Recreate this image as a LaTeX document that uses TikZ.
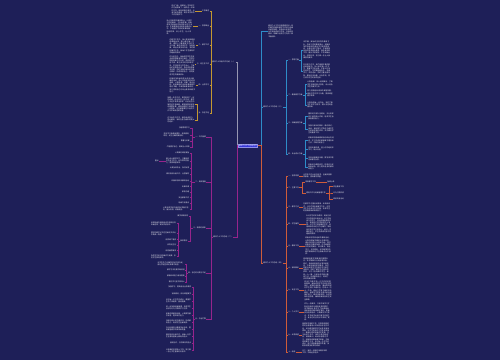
\documentclass[tikz,border=0pt]{standalone}
\usepackage{fontspec}
\usepackage{tikz}
\usetikzlibrary{positioning}
\newfontfamily\cjk{Noto Sans CJK SC}
\XeTeXlinebreaklocale "zh"
\XeTeXlinebreakskip = 0pt plus 1pt
\definecolor{bgnavy}{RGB}{30,31,88}
\definecolor{hubblue}{RGB}{52,52,214}
\definecolor{trunkgray}{RGB}{150,150,178}
\definecolor{goldline}{RGB}{196,152,48}
\definecolor{plumline}{RGB}{150,36,140}
\definecolor{skyline}{RGB}{46,140,200}
\definecolor{rustline}{RGB}{206,92,58}

\begin{document}
\begin{tikzpicture}[x=1mm, y=-1mm,
        txt/.style={text=white!92!bgnavy, font=\cjk\fontsize{5}{6.3}\selectfont, inner sep=0.3mm},
        para/.style={txt, align=left, text width=#1mm},
        hub/.style={txt, text=white, fill=hubblue, draw=hubblue!55!white, line width=0.2mm, inner sep=0.7mm},
        tl/.style={draw=trunkgray, line width=0.55mm},
        gl/.style={draw=goldline, line width=0.45mm},
        pl/.style={draw=plumline, line width=0.45mm},
        sl/.style={draw=skyline, line width=0.45mm},
        rl/.style={draw=rustline, line width=0.45mm}
        ]
        \fill[bgnavy] (0,0) rectangle (500,360);
        \useasboundingbox (0,0) rectangle (500,360);

        \node[hub] (hub) at (248,145.5) {教师个人工作总结范文};

        % left, upper branch
        \node[txt, anchor=west] (ta) at (212,62) {教师个人年度工作总结（一）};
        \node[txt, anchor=east] (ta1) at (209.5,11) {工作概述};
        \node[txt, anchor=east] (ta2) at (209.5,26) {一、思想政治};
        \node[txt, anchor=east] (ta3) at (209.5,45) {二、教学工作};
        \node[txt, anchor=east] (ta4) at (209.5,64) {三、班主任工作};
        \node[txt, anchor=east] (ta5) at (209.5,85) {四、业务学习};
        \node[txt, anchor=east] (ta6) at (209.5,113) {五、存在不足};
        \node[para=23, anchor=east] (pa1) at (195,10.5) {时光飞逝，转眼间一学年的工作已经结束了。回顾这一年来的工作，既有收获的喜悦，也有不足的遗憾，现将本学年的工作总结如下。};
        \node[para=26, anchor=east] (pa2) at (193,27) {本人热爱党的教育事业，认真学习党的路线、方针和政策，积极参加学校组织的各项政治学习活动，不断提高自身的政治理论水平。严格遵守学校的规章制度，团结同事，关心学生，为人师表。};
        \node[para=26, anchor=east] (pa3) at (196,46) {在教学工作中，我认真钻研教材和课程标准，精心备好每一节课，课堂上注重激发学生的学习兴趣，面向全体学生，因材施教。课后认真批改作业，及时做好辅导工作，使每个学生都有不同程度的提高。};
        \node[para=25, anchor=east] (pa4) at (195,65.5) {作为班主任，我始终把学生的安全和思想教育放在首位。开学初制定班级工作计划，培养得力的班干部，建立良好的班风和学风。平时经常与学生谈心，了解他们的思想动态，及时发现并解决问题。同时加强与家长的沟通与联系，形成家校合力，共同促进学生的健康成长。};
        \node[para=26, anchor=east] (pa5) at (196,85) {积极参加各级各类业务培训和教研活动，虚心向有经验的老师请教，认真听课、评课，取长补短。利用课余时间阅读教育教学理论书籍，不断更新教育观念，努力提高自己的专业素养和教学能力。};
        \node[para=27, anchor=east] (pa6) at (195,104.5) {回顾一年的工作，虽然取得了一定的成绩，但也存在一些不足：教学方法还不够灵活多样，对后进生的辅导还不够细致，课堂管理的经验还需要积累，教育科研能力有待进一步提高。这些都需要在今后的工作中不断改进和完善。};
        \node[para=27, anchor=east] (pa7) at (195,120) {在今后的工作中，我将继续努力，扬长避短，争取在各方面取得更大的进步。};

        % left, lower branch
        \node[txt, anchor=west] (tb) at (213,237) {教师个人工作总结（二）};
        \node[txt, anchor=west] (tb1) at (195,137) {一、工作回顾};
        \node[txt, anchor=west] (tb2) at (195,182) {二、具体措施};
        \node[txt, anchor=west] (tb3) at (193,228) {三、取得的成绩};
        \node[txt, anchor=west] (tb4) at (188,273) {四、存在的问题与不足};
        \node[txt, anchor=west] (tb5) at (195,319) {五、今后打算};

        \node[txt, anchor=east] (ba1) at (190,128) {加强思想学习};
        \node[para=26, anchor=east] (ba2) at (190,135) {坚持学习新课程理念，转变教育观念，树立正确的教育观。};
        \node[txt, anchor=east] (ba3) at (190,141) {尊重与关爱};
        \node[txt, anchor=east] (ba4) at (190,147) {严格要求自己，做到为人师表};

        \node[txt, anchor=east] (bb1) at (189.5,153) {认真做好课前准备};
        \node[para=23, anchor=east] (bb2) at (189.5,161) {精心设计教学环节，注重培养学生自主学习、合作探究的能力，提高课堂效率。};
        \node[txt, anchor=east] (bb0) at (159,161) {重点};
        \node[txt, anchor=east] (bb3) at (189.5,168) {认真批改作业，及时反馈};
        \node[txt, anchor=east] (bb4) at (189.5,174) {做好培优补差工作，分层辅导};
        \node[txt, anchor=east] (bb5) at (189.5,181) {积极参加校本教研活动};
        \node[txt, anchor=east] (bb6) at (189.5,186.5) {听课评课};
        \node[txt, anchor=east] (bb7) at (189.5,192) {家校沟通};
        \node[txt, anchor=east] (bb8) at (189.5,197.5) {安全教育工作};
        \node[txt, anchor=east] (bb9) at (189.5,203) {班级文化建设};
        \node[para=26, anchor=east] (bb10) at (189.5,209) {认真完成学校交给的各项临时任务，服从安排，积极配合。};

        \node[txt, anchor=east] (bc1) at (188.5,216) {教学成绩优秀};
        \node[txt, anchor=west] (bc2) at (180,241) {获奖情况};
        \node[para=25, anchor=east] (bd1) at (176.5,223.5) {所带班级在期末统考中成绩名列年级前茅，受到学校好评。};
        \node[para=25, anchor=east] (bd2) at (176.5,233.5) {撰写的教学论文在区级论文评比中荣获一等奖。};
        \node[txt, anchor=east] (bd3) at (176.5,239.5) {优质课二等奖};
        \node[txt, anchor=east] (bd4) at (176.5,245) {优秀班主任};
        \node[txt, anchor=east] (bd5) at (176.5,250.5) {优秀辅导教师};
        \node[para=25, anchor=east] (bd6) at (176.5,256.5) {指导学生参加市级作文竞赛，多名学生获得奖项。};

        \node[para=27, anchor=east] (be1) at (185,264) {对学生的个别辅导时间不够充足，部分学困生转化效果不明显。};
        \node[txt, anchor=east] (be2) at (185,270) {教学方法仍需不断改进};
        \node[txt, anchor=east] (be3) at (185,276) {教育科研能力有待提高};
        \node[txt, anchor=east] (be4) at (185,282) {理论学习还不够深入};

        \node[txt, anchor=east] (bf1) at (191.5,287) {加强学习，提高自身业务素质};
        \node[txt, anchor=east] (bf2) at (191.5,294) {钻研教材，优化课堂教学};
        \node[para=25, anchor=east] (bf3) at (191.5,301) {关注每一位学生的成长，尊重学生的个体差异，因材施教。};
        \node[para=25, anchor=east] (bf4) at (191.5,308) {进一步加强班级管理，培养学生良好的行为习惯和学习习惯。};
        \node[para=25, anchor=east] (bf5) at (191.5,315) {积极开展教育科研，认真撰写教学反思，提升研究能力。};
        \node[para=25, anchor=east] (bf6) at (191.5,322) {加强与家长的沟通交流，形成教育合力，促进学生全面发展。};
        \node[para=25, anchor=east] (bf7) at (191.5,329) {充分利用现代教育技术手段，提高课堂教学的效率和质量。};
        \node[para=25, anchor=east] (bf8) at (191.5,336) {做好培优补差工作，使每一名学生在原有基础上都有所进步。};
        \node[txt, anchor=east] (bf9) at (191.5,343) {团结协作，与同事共同进步};
        \node[para=25, anchor=east] (bf10) at (191.5,350.5) {以饱满的热情投入工作，努力做一名让学生喜爱的好老师。};

        % right, upper branch
        \node[para=25, anchor=west] (note) at (268,31) {教师个人工作总结是教师对一段时期内的教育教学工作进行全面系统的回顾、检查和分析评价，从中找出成绩与不足，总结经验教训，明确今后努力方向的一种书面材料。};
        \node[txt, anchor=west] (tc) at (263,107) {教师个人工作总结（三）};
        \node[txt, anchor=west] (c1) at (288,60) {一、思想方面};
        \node[txt, anchor=west] (c2) at (288,95) {二、教育教学方面};
        \node[txt, anchor=west] (c3) at (288,123) {三、班级管理方面};
        \node[txt, anchor=west] (c4) at (288,154) {四、专业成长方面};
        \node[para=27, anchor=west] (c1a) at (303,50) {本学期，我始终坚持党的教育方针，忠诚于党的教育事业，积极参加学校组织的政治学习和师德培训，认真记录学习笔记，不断提高自身的思想政治素质。我热爱本职工作，服从学校安排，工作兢兢业业，尽职尽责，努力做一名让人民满意的教师。};
        \node[para=27, anchor=west] (c1b) at (303,71) {在日常工作中，我严格遵守教师职业道德规范，关心爱护每一位学生，尊重学生的人格，平等公正地对待学生，与同事团结协作，互相学习，共同进步。同时注重自身形象，做到言传身教、以身作则，努力成为学生的良师益友。};
        \node[para=26, anchor=west] (c2a) at (307,84.5) {认真备课，深入钻研教材，了解学生原有的知识技能，设计适合学生的教学方法。};
        \node[para=26, anchor=west] (c2b) at (307,93.5) {努力营造轻松愉快的课堂氛围，激发学生的学习兴趣，提高课堂教学效率。};
        \node[para=26, anchor=west] (c2c) at (307,105) {认真批改每一份作业，及时了解学生的学习情况，有针对性地查漏补缺。};
        \node[para=26, anchor=west] (c3a) at (308,116.5) {重视班干部队伍建设，充分发挥班干部的带头作用，培养学生自我管理的能力。};
        \node[para=26, anchor=west] (c3b) at (308,129.5) {加强与家长的联系，通过家访、电话、微信等方式及时沟通学生在校和在家的表现，共同做好学生的教育工作。};
        \node[para=26, anchor=west] (c4a) at (308,140.5) {积极参加各级教研活动和业务培训，学习先进的教育教学理念和方法，不断充实自己。};
        \node[para=26, anchor=west] (c4b) at (308,149) {坚持听课评课，虚心向同组老师学习，取长补短。};
        \node[para=26, anchor=west] (c4c) at (308,158.5) {坚持阅读教育专著，撰写读书笔记和教学反思。};
        \node[para=26, anchor=west] (c4d) at (308,167) {积极参与课题研究，将理论与实践相结合，努力提升自身的教科研能力。};

        % right, lower branch
        \node[txt, anchor=west] (td) at (263,263) {教师个人工作总结（四）};
        \node[txt, anchor=west] (d1) at (288,176) {一、指导思想};
        \node[txt, anchor=west] (d2) at (288,187.5) {二、主要工作};
        \node[txt, anchor=west] (d3) at (288,207) {三、教学方法};
        \node[txt, anchor=west] (d4) at (288,224) {四、学生辅导};
        \node[txt, anchor=west] (d5) at (288,246) {五、教研工作};
        \node[txt, anchor=west] (d6) at (288,268) {六、家校联系};
        \node[txt, anchor=west] (d7) at (288,290) {七、安全工作};
        \node[txt, anchor=west] (d8) at (288,312) {八、个人学习};
        \node[txt, anchor=west] (d9) at (288,335) {九、反思展望};
        \node[txt, anchor=west] (d10) at (288,352) {十、结语};
        \node[txt, anchor=west] (d2a) at (305,182) {常规教学工作};
        \node[txt, anchor=west] (d2a1) at (327,182) {备课上课};
        \node[txt, anchor=west] (d2b) at (306,193) {德育工作与班级管理工作};
        \node[txt, anchor=west] (d2b1) at (333,186.5) {安全教育工作};
        \node[txt, anchor=west] (d2b2) at (333,193) {行为习惯养成};
        \node[txt, anchor=west] (d2b3) at (333,199) {家校共育活动};
        \node[para=29, anchor=west] (e1) at (303,175.5) {以学校工作计划为指导，全面实施素质教育，提高教学质量。};
        \node[para=27, anchor=west] (e3) at (303,207.5) {在教学中注重创设情境，采用启发式、讨论式等多种教学方法，引导学生主动参与学习过程，培养学生的创新精神和实践能力。};
        \node[para=25, anchor=west] (e4) at (306,225) {针对学生的实际情况，制定切实可行的培优补差计划。对于学有余力的学生，适当布置拓展性作业，鼓励他们在更高层次上发展；对于学习有困难的学生，利用课余时间进行个别辅导，帮助他们树立学习的信心。经过一学期的努力，学生的成绩均有不同程度的提高。};
        \node[para=26, anchor=west] (e5) at (305,246) {积极参加学校组织的教研活动，认真完成每学期的公开课任务，课后及时进行反思和总结。同时积极参与集体备课，与同组教师共同研究教材、探讨教法，相互学习、共同提高。本学期撰写的教学案例和论文在校级评比中获奖。};
        \node[para=26, anchor=west] (e6) at (303,269) {家庭教育是学校教育的重要补充。本学期我充分利用家长会、家访、电话和网络平台等多种途径，与家长保持密切联系，及时向家长反馈学生在校的学习和生活情况，同时了解学生在家中的表现。对于个别特殊的学生，做到一人一策，与家长共同商讨教育方法，形成教育合力，取得了良好的教育效果。};
        \node[para=28, anchor=west] (e7) at (304,290.5) {安全工作是学校一切工作的前提和保障。我始终把学生的安全放在首位，经常利用班会、晨会等时间对学生进行交通安全、防溺水、防火、防电、食品卫生等方面的安全教育，增强学生的安全意识和自我保护能力。课间加强巡视，及时排除安全隐患，确保班级没有发生安全事故。};
        \node[para=26, anchor=west] (e8) at (304,312) {作为一名教师，只有不断学习才能适应新时代教育发展的要求。本学期我认真学习了新课程标准和相关的教育教学理论，积极参加各类培训，认真做好学习笔记，并将所学运用于教学实践之中，使自己的业务水平得到了提高。};
        \node[para=27, anchor=west] (e9) at (302,335) {回顾本学期的工作，在取得成绩的同时也清醒地认识到自身存在的不足，比如课堂教学的艺术性还有待提高，对学生的评价方式还比较单一，教育科研的深度还不够等。在今后的工作中，我将认真总结经验，吸取教训，继续加强理论学习，积极探索教育教学规律，不断改进教学方法，关注每一位学生的成长，努力提高教育教学质量，争取取得更加优异的成绩。};
        \node[para=25, anchor=west] (e10) at (302,352) {总之，我将一如既往地做好本职工作，不断追求进步。};

        % trunks
        \draw[tl] (hub.west) -- ++(-1,0) |- (ta.east);
        \draw[pl] (hub.west) -- ++(-1,0) |- (tb.east);
        \draw[sl] (hub.east) -- ++(4,0) |- (note.west);
        \draw[sl] (hub.east) -- ++(4,0) |- (tc.west);
        \draw[rl] (hub.east) -- ++(4,0) |- (td.west);

        % left connectors
        \foreach \i in {1,...,6}
            \draw[gl] (ta.west) -- ++(-1,0) |- (ta\i.east);
        \foreach \i in {1,...,5}
            \draw[gl] (ta\i.west) -- (pa\i.east |- ta\i.west);
        \draw[gl] (ta6.west) -- ++(-1,0) |- (pa6.east);
        \draw[gl] (ta6.west) -- ++(-1,0) |- (pa7.east);

        \foreach \i in {1,...,5}
            \draw[pl] (tb.west) -- ++(-2,0) |- (tb\i.east);
        \foreach \i in {1,...,4}
            \draw[pl] (tb1.west) -- ++(-2.5,0) |- (ba\i.east);
        \foreach \i in {1,...,10}
            \draw[pl] (tb2.west) -- ++(-3.5,0) |- (bb\i.east);
        \draw[pl] (bb2.west) -- (bb0.east |- bb2.west);
        \draw[pl] (tb3.west) -- ++(-3,0) |- (bc1.east);
        \draw[pl] (tb3.west) -- ++(-3,0) |- (bc2.east);
        \foreach \i in {1,...,6}
            \draw[pl] (bc2.west) -- ++(-1.5,0) |- (bd\i.east);
        \foreach \i in {1,...,4}
            \draw[pl] (tb4.west) -- ++(-1.5,0) |- (be\i.east);
        \foreach \i in {1,...,10}
            \draw[pl] (tb5.west) -- ++(-2,0) |- (bf\i.east);

        % right connectors
        \foreach \i in {1,...,4}
            \draw[sl] (tc.east) -- ++(3,0) |- (c\i.west);
        \foreach \p/\c in {c1/c1a, c1/c1b, c2/c2a, c2/c2b, c2/c2c, c3/c3a, c3/c3b, c4/c4a, c4/c4b, c4/c4c, c4/c4d}
            \draw[sl] (\p.east) -- ++(2,0) |- (\c.west);

        \foreach \i in {1,...,10}
            \draw[rl] (td.east) -- ++(3,0) |- (d\i.west);
        \foreach \i in {1,3,4,5,6,7,8,9,10}
            \draw[rl] (d\i.east) -- (e\i.west |- d\i.east);
        \draw[rl] (d2.east) -- ++(3,0) |- (d2a.west);
        \draw[rl] (d2.east) -- ++(3,0) |- (d2b.west);
        \draw[rl] (d2a.east) -- (d2a1.west);
        \foreach \i in {1,2,3}
            \draw[rl] (d2b.east) -- ++(3,0) |- (d2b\i.west);
    \end{tikzpicture}
\end{document}
